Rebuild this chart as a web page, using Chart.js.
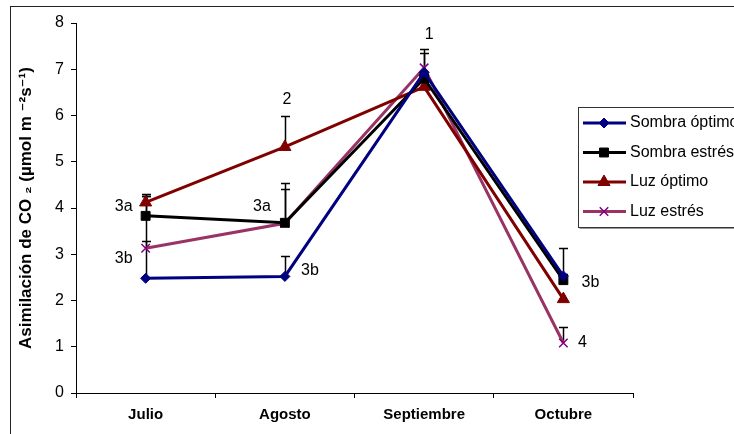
<!DOCTYPE html>
<html>
<head>
<meta charset="utf-8">
<script src="https://cdn.jsdelivr.net/npm/chart.js@4.4.0/dist/chart.umd.min.js"></script>
<style>
  html, body { margin: 0; padding: 0; background: #fff; }
  #wrap { width: 734px; height: 434px; }
</style>
</head>
<body>
<div id="wrap"><canvas id="lineChart" width="734" height="434"></canvas></div>
<script>
// Datos del gráfico
const meses = ['Julio', 'Agosto', 'Septiembre', 'Octubre'];
const yTicks = [0, 1, 2, 3, 4, 5, 6, 7, 8];

const sombraOptimo = [2.48, 2.52, 6.93, 2.53];
const sombraEstres = [3.83, 3.68, 6.80, 2.44];
const luzOptimo = [4.12, 5.32, 6.62, 2.03];
const luzEstres = [3.13, 3.67, 7.03, 1.08];

// Barras de error (solo hacia arriba)
const errSombraOptimo = [1.77, 0.44, 0.50, 0.61];
const errSombraEstres = [0.42, 0.86, 0, 0.13];
const errLuzOptimo = [0.18, 0.67, 0, 0];
const errLuzEstres = [0.16, 0.74, 0.32, 0.35];

// Letras de significancia: mes, valor, texto
const letrasMes = [0, 0, 1, 1, 1, 2, 3, 3];
const letrasValor = [4.04, 2.90, 4.02, 2.64, 6.34, 7.74, 2.38, 1.08];
const letrasTexto = ['3a', '3b', '3a', '3b', '2', '1', '3b', '4'];
const letrasDx = [-22, -22, -23, 25, 2, 5, 27, 19];

const FONT = "'Liberation Sans', Arial, 'DejaVu Sans', sans-serif";

// Marco exterior del gráfico
const marco = {
  id: 'marco',
  beforeDraw(chart) {
    const ctx = chart.ctx;
    ctx.save();
    ctx.fillStyle = '#fff';
    ctx.fillRect(0, 0, chart.width, chart.height);
    ctx.strokeStyle = '#222';
    ctx.lineWidth = 1;
    ctx.strokeRect(10.5, 6.5, 800, 500);
    ctx.restore();
  }
};

// Barras de error
const barrasError = {
  id: 'barrasError',
  beforeDatasetsDraw(chart) {
    const { ctx, scales: { x, y } } = chart;
    ctx.save();
    ctx.strokeStyle = '#000';
    ctx.lineWidth = 1.5;
    chart.data.datasets.forEach(ds => {
      ds.errores.forEach((e, j) => {
        if (!e) return;
        const px = Math.round(x.getPixelForValue(j)) + 0.5;
        const y0 = y.getPixelForValue(ds.data[j]);
        const y1 = Math.round(y.getPixelForValue(ds.data[j] + e)) + 0.5;
        ctx.beginPath();
        ctx.moveTo(px, y0);
        ctx.lineTo(px, y1);
        ctx.moveTo(px - 4.5, y1);
        ctx.lineTo(px + 4.5, y1);
        ctx.stroke();
      });
    });
    ctx.restore();
  }
};

// Letras y leyenda
const extras = {
  id: 'extras',
  afterDraw(chart) {
    const { ctx, scales: { x, y } } = chart;
    ctx.save();
    ctx.fillStyle = '#000';
    ctx.font = '16px ' + FONT;
    ctx.textAlign = 'center';
    ctx.textBaseline = 'middle';
    letrasTexto.forEach((t, i) => {
      const px = x.getPixelForValue(letrasMes[i]) + letrasDx[i];
      const py = y.getPixelForValue(letrasValor[i]);
      ctx.fillText(t, px, py);
    });

    // Leyenda
    const lx = 578, ly = 107, lh = 120;
    ctx.fillStyle = '#fff';
    ctx.fillRect(lx, ly, 200, lh);
    ctx.strokeStyle = '#999';
    ctx.lineWidth = 1;
    ctx.beginPath();
    ctx.moveTo(lx + 1.5, ly + lh + 1.5);
    ctx.lineTo(760, ly + lh + 1.5);
    ctx.stroke();
    ctx.strokeStyle = '#333';
    ctx.strokeRect(lx + 0.5, ly + 0.5, 200, lh);
    chart.data.datasets.forEach((ds, i) => {
      const cy = ly + 16 + i * 29.5;
      ctx.strokeStyle = ds.borderColor;
      ctx.lineWidth = 3;
      ctx.beginPath();
      ctx.moveTo(583, cy);
      ctx.lineTo(626, cy);
      ctx.stroke();
      ctx.fillStyle = ds.pointBackgroundColor;
      ctx.strokeStyle = ds.pointBorderColor;
      ctx.lineWidth = ds.pointBorderWidth;
      Chart.helpers.drawPoint(ctx, {
        pointStyle: ds.pointStyle,
        radius: ds.pointRadius,
        borderWidth: ds.pointBorderWidth
      }, 604, cy);
      ctx.fillStyle = '#000';
      ctx.font = '16px ' + FONT;
      ctx.textAlign = 'left';
      ctx.textBaseline = 'middle';
      ctx.fillText(ds.label, 630, cy);
    });
    ctx.restore();
  }
};

function serie(label, data, errores, color, markerColor, style, radius) {
  return {
    label: label,
    data: data,
    errores: errores,
    borderColor: color,
    borderWidth: 3,
    backgroundColor: markerColor,
    pointBackgroundColor: markerColor,
    pointBorderColor: markerColor,
    pointBorderWidth: style === 'crossRot' ? 1.5 : 1,
    pointStyle: style,
    pointRadius: radius,
    pointHoverRadius: radius,
    tension: 0
  };
}

const datos = {
  labels: meses,
  datasets: [
    serie('Sombra óptimo', sombraOptimo, errSombraOptimo, '#000080', '#000080', 'rectRot', 5),
    serie('Sombra estrés', sombraEstres, errSombraEstres, '#000000', '#000000', 'rect', 6.3),
    serie('Luz óptimo', luzOptimo, errLuzOptimo, '#800000', '#800000', 'triangle', 7),
    serie('Luz estrés', luzEstres, errLuzEstres, '#993366', '#800080', 'crossRot', 6)
  ]
};

const opciones = {
  responsive: false,
  animation: false,
  layout: { padding: { left: 10, top: 23, right: 101, bottom: 0 } },
  plugins: {
    legend: { display: false },
    tooltip: { enabled: false }
  },
  scales: {
    x: {
      type: 'category',
      offset: true,
      grid: { offset: true, drawOnChartArea: false, drawTicks: true, tickLength: 5, color: '#000' },
      border: { display: true, color: '#000', width: 1 },
      ticks: { color: '#000', font: { family: FONT, size: 15, weight: 'bold' }, padding: 8, maxRotation: 0 },
      afterFit: s => { s.height = 41; }
    },
    y: {
      min: 0,
      max: 8,
      afterBuildTicks: s => { s.ticks = yTicks.map(v => ({ value: v })); },
      grid: { drawOnChartArea: false, drawTicks: true, tickLength: 5, color: '#000' },
      border: { display: true, color: '#000', width: 1 },
      ticks: { color: '#000', font: { family: FONT, size: 16 }, padding: 7 },
      title: {
        display: true,
        text: 'Asimilación de CO ₂ (µmol m ⁻²s⁻¹)',
        color: '#000',
        font: { family: FONT, size: 17, weight: 'bold' },
        padding: { top: 6, bottom: 0 }
      },
      afterFit: s => { s.width = 66; }
    }
  }
};

const ctx = document.getElementById('lineChart').getContext('2d');
const lineChart = new Chart(ctx, {
  type: 'line',
  data: datos,
  options: opciones,
  plugins: [marco, barrasError, extras]
});
</script>
</body>
</html>
